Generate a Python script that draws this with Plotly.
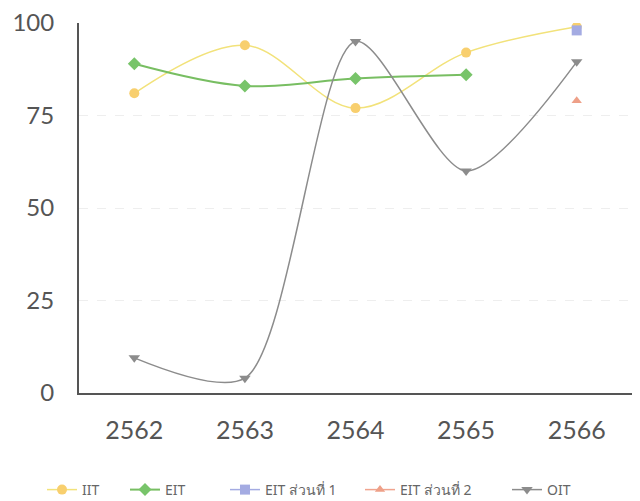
import plotly.graph_objects as go

years = ["2562", "2563", "2564", "2565", "2566"]
iit = [81, 94, 77, 92, 99]
eit = [89, 83, 85, 86, None]
eit_part1 = [None, None, None, None, 98]
eit_part2 = [None, None, None, None, 79]
oit = [9.5, 4, 95, 60, 89.5]
y_ticks = [0, 25, 50, 75, 100]

OFF = 8  # page body margin
W, H = 632, 493
L, T = 79 - OFF, 23 - OFF
R = W - (632 - OFF)
B = H - (393 - OFF)
pw, ph = W - L - R, H - T - B

def lx(px):
    return (px - OFF - L) / pw

leg_y = -(490 - 393) / ph
leg_font = dict(size=14, color="#666666", family="'Noto Sans', Lato, sans-serif")
marker_centers = [62, 145, 245, 380, 527]

fig = go.Figure()
fig.add_trace(go.Scatter(x=years, y=iit, name="IIT", mode="lines+markers", legend="legend",
                         line=dict(color="#f2e27a", width=1.5, shape="spline"),
                         marker=dict(symbol="circle", size=10, color="#f8cf6e")))
fig.add_trace(go.Scatter(x=years, y=eit, name="EIT", mode="lines+markers", legend="legend2",
                         line=dict(color="#78be62", width=2, shape="spline"),
                         marker=dict(symbol="diamond", size=10, color="#78c46a")))
fig.add_trace(go.Scatter(x=years, y=eit_part1, name="EIT ส่วนที่ 1", mode="lines+markers", legend="legend3",
                         line=dict(color="#a4abe2", width=1.5),
                         marker=dict(symbol="square", size=10, color="#a4abe2")))
fig.add_trace(go.Scatter(x=years, y=eit_part2, name="EIT ส่วนที่ 2", mode="lines+markers", legend="legend4",
                         line=dict(color="#f0a48e", width=1.5),
                         marker=dict(symbol="triangle-up", size=9, color="#eea088")))
fig.add_trace(go.Scatter(x=years, y=oit, name="OIT", mode="lines+markers", legend="legend5",
                         line=dict(color="#8c8c8c", width=1.5, shape="spline", smoothing=0.8),
                         marker=dict(symbol="triangle-down", size=10, color="#8c8c8c")))

legends = {}
for i, mc in enumerate(marker_centers):
    key = "legend" if i == 0 else f"legend{i+1}"
    legends[key] = dict(orientation="h", x=lx(mc - 20), xanchor="left", y=leg_y,
                        yanchor="middle", font=leg_font, itemwidth=30,
                        bgcolor="rgba(0,0,0,0)")

fig.update_layout(
    width=W, height=H,
    margin=dict(l=L, r=R, t=T, b=B, autoexpand=False),
    paper_bgcolor="white", plot_bgcolor="white",
    font=dict(family="Lato, 'Noto Sans', sans-serif", color="#555555"),
    showlegend=True,
    **legends,
)
fig.update_xaxes(type="category", showline=True, linecolor="#555555", linewidth=2,
                 showgrid=False, ticks="", tickfont=dict(size=25, color="#555555"),
                 range=[-0.5, 4.5], ticklabelstandoff=14, automargin=False)
fig.update_yaxes(range=[0, 100], tickvals=y_ticks, showline=True, linecolor="#555555",
                 linewidth=2, showgrid=True, gridcolor="#eeeeee", griddash="dash",
                 zeroline=False, ticks="", tickfont=dict(size=24, color="#555555"),
                 ticklabelstandoff=18, ticklabeloverflow="allow", automargin=False)

fig.write_html("out.html")
